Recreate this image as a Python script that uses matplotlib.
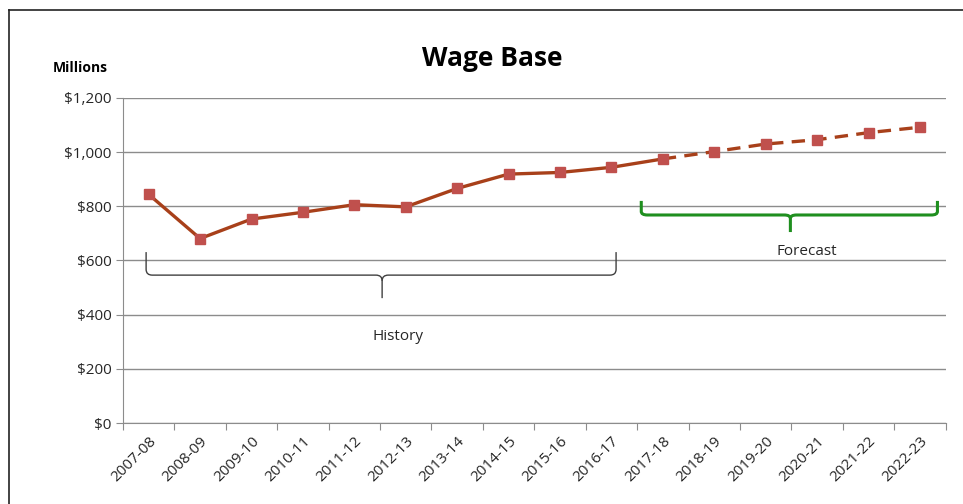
import numpy as np
import matplotlib.pyplot as plt
from matplotlib.path import Path
from matplotlib.patches import PathPatch
from matplotlib.lines import Line2D
from matplotlib.ticker import FuncFormatter, FixedLocator

plt.rcParams['font.family'] = ['Open Sans', 'DejaVu Sans']

# Fiscal years and wage base ($ millions)
years = ['2007-08', '2008-09', '2009-10', '2010-11', '2011-12', '2012-13',
         '2013-14', '2014-15', '2015-16', '2016-17', '2017-18', '2018-19',
         '2019-20', '2020-21', '2021-22', '2022-23']
wage_base = [844, 681, 753, 778, 806, 798, 866, 919, 925, 944,
             975, 1002, 1030, 1046, 1072, 1092]
last_history = 10   # solid line runs through 2017-18, dashed afterwards

line_col = '#A8401A'
marker_col = '#C0504D'
grid_col = '#8C8C8C'
text_col = '#262626'

fig = plt.figure(figsize=(9.63, 5.04), dpi=100)
ax = fig.add_axes([0.1277, 0.1607, 0.8543, 0.6449])

x = np.arange(len(years))
ax.plot(x[:last_history + 1], wage_base[:last_history + 1], color=line_col,
        lw=2.4, zorder=3)
ax.plot(x[last_history:], wage_base[last_history:], color=line_col,
        lw=2.4, ls=(0, (4, 2.5)), zorder=3)
ax.plot(x, wage_base, ls='none', marker='s', ms=7, color=marker_col, zorder=4)


def brace(ax, x0, x1, xm, ytop, ymid, ytip, color, lw):
    """Curly brace opening upward, tip pointing down at xm."""
    r = 0.12
    dy = (ytop - ymid) * 0.25
    verts = [(x0, ytop), (x0, ymid + dy), (x0, ymid), (x0 + r, ymid),
             (xm - r, ymid), (xm, ymid), (xm, ymid - dy), (xm, ytip)]
    codes = [Path.MOVETO, Path.LINETO, Path.CURVE3, Path.CURVE3,
             Path.LINETO, Path.CURVE3, Path.CURVE3, Path.LINETO]
    ax.add_patch(PathPatch(Path(verts, codes), fill=False, ec=color, lw=lw,
                           capstyle='butt', zorder=2))
    verts = [(x1, ytop), (x1, ymid + dy), (x1, ymid), (x1 - r, ymid),
             (xm + r, ymid), (xm, ymid), (xm, ymid - dy)]
    codes = [Path.MOVETO, Path.LINETO, Path.CURVE3, Path.CURVE3,
             Path.LINETO, Path.CURVE3, Path.CURVE3]
    ax.add_patch(PathPatch(Path(verts, codes), fill=False, ec=color, lw=lw,
                           capstyle='butt', zorder=2))


brace(ax, -0.05, 9.09, 4.54, 631, 546, 461, '#404040', 1.0)
ax.text(4.85, 318, 'History', ha='center', va='center', fontsize=11,
        color=text_col)
brace(ax, 9.58, 15.34, 12.48, 820, 768, 705, '#1F8F1F', 2.2)
ax.text(12.8, 632, 'Forecast', ha='center', va='center', fontsize=11,
        color=text_col)

ax.set_xlim(-0.5, len(years) - 0.5)
ax.set_ylim(0, 1200)
ax.set_yticks(np.arange(0, 1201, 200))
ax.yaxis.set_major_formatter(FuncFormatter(lambda v, p: f'${v:,.0f}'))
ax.grid(axis='y', color=grid_col, lw=1)
ax.set_axisbelow(True)

# ticks sit between categories, labels centred on each category
ax.xaxis.set_major_locator(FixedLocator(np.arange(-0.5, len(years), 1.0)))
ax.xaxis.set_major_formatter(FuncFormatter(lambda v, p: ''))
ax.xaxis.set_minor_locator(FixedLocator(x))
ax.set_xticklabels(years, minor=True, rotation=45, ha='right',
                   rotation_mode='anchor', fontsize=11, color=text_col)
ax.tick_params(axis='x', which='major', length=5, color=grid_col, direction='out')
ax.tick_params(axis='x', which='minor', length=0, pad=8)
ax.tick_params(axis='y', length=5, color=grid_col, labelsize=11,
               labelcolor=text_col, pad=3)

for s in ['top', 'right']:
    ax.spines[s].set_visible(False)
for s in ['left', 'bottom']:
    ax.spines[s].set_color(grid_col)

fig.text(0.511, 0.884, 'Wage Base', ha='center', va='center', fontsize=19,
         fontweight='bold', color='black')
fig.text(0.0545, 0.866, 'Millions', ha='left', va='center', fontsize=10,
         fontweight='bold', color='black')

# outer chart frame
fig.add_artist(Line2D([0.0093, 1.0], [0.980, 0.980], color='#222222', lw=1.2))
fig.add_artist(Line2D([0.0093, 0.0093], [0.0, 0.980], color='#222222', lw=1.2))

fig.savefig('out.png', dpi=100)
